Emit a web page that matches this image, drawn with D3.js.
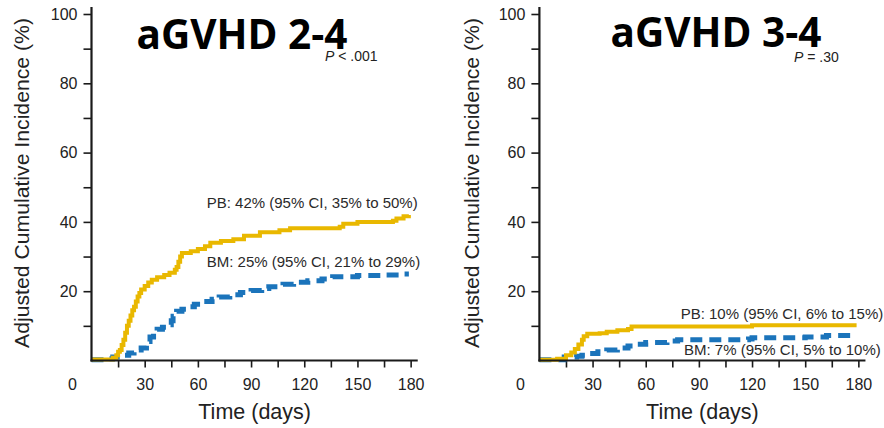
<!DOCTYPE html>
<html>
<head>
<meta charset="utf-8">
<script src="https://cdn.jsdelivr.net/npm/d3@7"></script>
<style>
  html, body { margin: 0; padding: 0; background: #fff; }
  svg { display: block; }
</style>
</head>
<body>
<svg id="chart" width="884" height="428"></svg>
<script>
// ---------------- DATA ----------------
const xTicksMajor = [30, 60, 90, 120, 150, 180];
const yTicksMajor = [20, 40, 60, 80, 100];
const panelTitles = ["aGVHD 2-4", "aGVHD 3-4"];
const pValues = [["P", " < .001"], ["P", " = .30"]];
const pbLabels = ["PB: 42% (95% CI, 35% to 50%)", "PB: 10% (95% CI, 6% to 15%)"];
const bmLabels = ["BM: 25% (95% CI, 21% to 29%)", "BM: 7% (95% CI, 5% to 10%)"];

// [day, cumulative incidence %]
const pbGrade24 = [[0,0.3],[12,0.8],[14,1.5],[15,2.5],[16,3],[17,4.5],[18,6],[19,8],[20,10],[21,11.5],[22,13],[23,14.5],[24,15.5],[25,17],[26,18.5],[27,19.5],[28,20.5],[30,21.5],[32,22.5],[34,23.3],[37,24],[41,24.7],[44,25.3],[47,26.2],[48,27],[49,28.5],[50,30],[51,31],[56,31.5],[60,32.2],[64,33],[67,34],[73,34.5],[80,35],[86,36],[95,37],[106,37.6],[112,38.2],[140,38.6],[142,39.5],[150,40],[170,40.3],[172,41],[176,41.6],[179,42]];
const bmGrade24 = [[0,0.2],[10,0.5],[12,1],[18,1.5],[21,2.2],[24,3],[28,3.6],[31,4.5],[32,5.5],[33,6.8],[35,8],[37,9],[40,9.6],[43,10.3],[45,11.5],[46,12.8],[48,14.2],[51,14.8],[54,15.5],[58,16.2],[62,17],[68,17.7],[72,18.3],[78,19],[84,19.6],[90,20.2],[96,20.8],[100,21.3],[108,22],[114,22.6],[122,23],[130,23.5],[136,24.2],[150,24.5],[165,24.7],[175,25],[179,25]];
const pbGrade34 = [[0,0.2],[10,0.5],[15,1.5],[18,2.3],[20,3.3],[22,4.6],[24,6],[25,7],[27,7.7],[34,7.9],[38,8.3],[44,8.7],[50,9.1],[52,9.8],[118,9.8],[120,10.2],[179,10.2]];
const bmGrade34 = [[0,0.2],[14,1],[21,1.2],[24,1.5],[28,2],[33,2.5],[38,3],[44,3.6],[50,4.2],[55,4.7],[60,5.2],[72,5.6],[78,6],[118,6.2],[120,6.6],[150,6.8],[162,7.2],[176,7.4]];

const pbSeries = [pbGrade24, pbGrade34];
const bmSeries = [bmGrade24, bmGrade34];

// ---------------- LAYOUT ----------------
const GOLD = "#E9B800";
const BLUE = "#1B74BB";
const AXIS = "#1a1a1a";
const TEXT = "#222";
const FONT = "'Liberation Sans', Arial, sans-serif";

const panels = [
  { x0: 91.5, pxPerDay: 1.773, ylabX: 29, titleX: 136.5, titleY: 49, pX: 325, pY: 61,
    pbPos: [65, 44], bmPos: [65, 27] },
  { x0: 539.4, pxPerDay: 1.772, ylabX: 479, titleX: 610.5, titleY: 47, pX: 794, pY: 62,
    pbPos: [79.7, 12], bmPos: [81.6, 1.65] }
];

const svg = d3.select("#chart");

panels.forEach((p, i) => {
  const x = d3.scaleLinear().domain([0, 184]).range([p.x0, p.x0 + 184 * p.pxPerDay]);
  const y = d3.scaleLinear().domain([0, 100]).range([360.5, 14]);
  const g = svg.append("g");

  // y axis ticks
  const yAxis = d3.axisLeft(y)
    .tickValues(d3.range(10, 101, 10))
    .tickSize(8).tickPadding(6)
    .tickFormat(d => yTicksMajor.includes(d) ? d : "");
  const ya = g.append("g").attr("transform", `translate(${p.x0},0)`).call(yAxis);
  ya.select(".domain").remove();
  ya.selectAll("line").attr("stroke", AXIS).attr("stroke-width", 1.6);
  ya.selectAll("text").attr("font-family", FONT).attr("font-size", 16).attr("fill", TEXT);

  // x axis ticks
  const xAxis = d3.axisBottom(x)
    .tickValues(d3.range(15, 181, 15))
    .tickSize(7).tickPadding(11)
    .tickFormat(d => xTicksMajor.includes(d) ? d : "");
  const xa = g.append("g").attr("transform", `translate(0,${y(0)})`).call(xAxis);
  xa.select(".domain").remove();
  xa.selectAll("line").attr("stroke", AXIS).attr("stroke-width", 1.6);
  xa.selectAll("text").attr("font-family", FONT).attr("font-size", 16).attr("fill", TEXT);

  // corner 0 label
  g.append("text").attr("x", x(0) - 19).attr("y", 390)
    .attr("text-anchor", "middle").attr("font-family", FONT).attr("font-size", 16)
    .attr("fill", TEXT).text("0");

  // curves
  const line = d3.line().x(d => x(d[0])).y(d => y(d[1])).curve(d3.curveStepAfter);
  g.append("path").datum(bmSeries[i]).attr("d", line)
    .attr("fill", "none").attr("stroke", BLUE).attr("stroke-width", 5)
    .attr("stroke-dasharray", "12,7");
  g.append("path").datum(pbSeries[i]).attr("d", line)
    .attr("fill", "none").attr("stroke", GOLD).attr("stroke-width", 4);

  // axis lines
  g.append("line").attr("x1", x(0)).attr("x2", x(0)).attr("y1", y(0) + 1).attr("y2", y(102))
    .attr("stroke", AXIS).attr("stroke-width", 2.2);
  g.append("line").attr("x1", x(0) - 1).attr("x2", x(184)).attr("y1", y(0)).attr("y2", y(0))
    .attr("stroke", AXIS).attr("stroke-width", 2.2);

  // axis titles
  g.append("text")
    .attr("transform", `translate(${p.ylabX},183) rotate(-90)`)
    .attr("text-anchor", "middle").attr("font-family", FONT).attr("font-size", 21)
    .attr("fill", TEXT).attr("textLength", 330).attr("lengthAdjust", "spacingAndGlyphs")
    .text("Adjusted Cumulative Incidence (%)");
  g.append("text")
    .attr("x", (x(0) + x(184)) / 2).attr("y", 419)
    .attr("text-anchor", "middle").attr("font-family", FONT).attr("font-size", 21.5)
    .attr("fill", TEXT).text("Time (days)");

  // panel title
  g.append("text").attr("x", p.titleX).attr("y", p.titleY)
    .attr("font-family", "'Open Sans', 'Noto Sans', sans-serif").attr("font-weight", 700)
    .attr("font-size", 40.5).attr("fill", "#000").text(panelTitles[i]);

  // p-value
  const pt = g.append("text").attr("x", p.pX).attr("y", p.pY)
    .attr("font-family", FONT).attr("font-size", 14).attr("fill", TEXT);
  pt.append("tspan").attr("font-style", "italic").text(pValues[i][0]);
  pt.append("tspan").text(pValues[i][1]);

  // curve labels
  g.append("text").attr("x", x(p.pbPos[0])).attr("y", y(p.pbPos[1]))
    .attr("font-family", FONT).attr("font-size", 15).attr("fill", "#2a2a2a").text(pbLabels[i]);
  g.append("text").attr("x", x(p.bmPos[0])).attr("y", y(p.bmPos[1]))
    .attr("font-family", FONT).attr("font-size", 15).attr("fill", "#2a2a2a").text(bmLabels[i]);
});
</script>
</body>
</html>
